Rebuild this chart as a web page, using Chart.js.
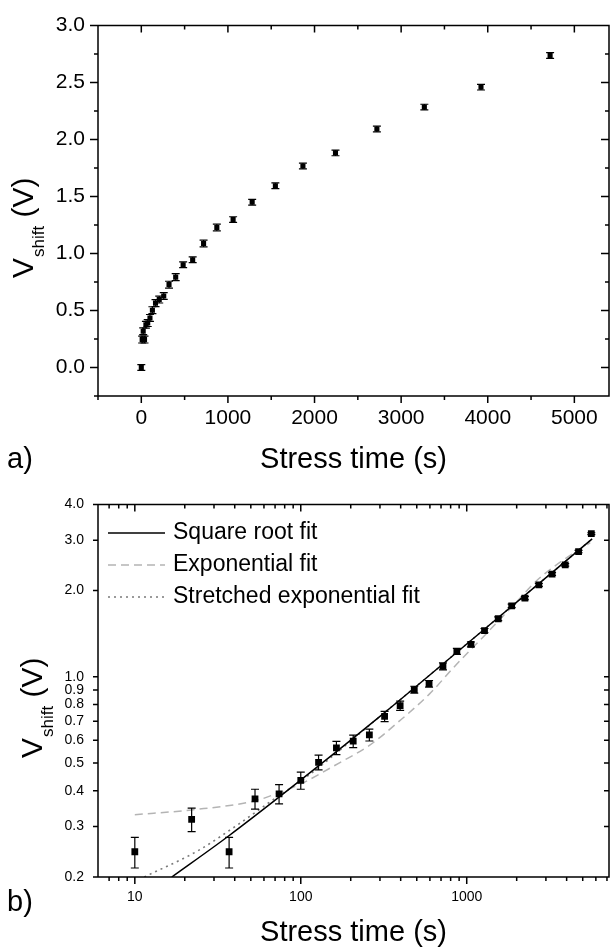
<!DOCTYPE html>
<html>
<head>
<meta charset="utf-8">
<title>Vshift vs stress time</title>
<script src="https://cdn.jsdelivr.net/npm/chart.js@4.4.1/dist/chart.umd.min.js"></script>
<style>
  html, body { margin: 0; padding: 0; background: #fff; }
  #wrap { position: relative; width: 610px; height: 951px; overflow: hidden; }
  #chartA { position: absolute; left: 0; top: 0; }
  #chartB { position: absolute; left: 0; top: 482px; }
</style>
</head>
<body>
<div id="wrap">
  <canvas id="chartA" width="610" height="480"></canvas>
  <canvas id="chartB" width="610" height="469"></canvas>
</div>
<script>
// ==================== DONNEES ====================

const stressTime = [0, 10, 22, 37, 53, 74, 100, 128, 164, 207, 259, 320, 397, 483, 593, 719, 872, 1060, 1280, 1548, 1866, 2242, 2720, 3268, 3922, 4720, 5634];
const vShift     = [0, 0.245, 0.318, 0.245, 0.375, 0.39, 0.435, 0.503, 0.565, 0.596, 0.627, 0.727, 0.793, 0.902, 0.946, 1.088, 1.228, 1.298, 1.45, 1.595, 1.768, 1.883, 2.093, 2.285, 2.46, 2.737, 3.16];
const vErr       = [0.025, 0.03, 0.03, 0.03, 0.03, 0.03, 0.03, 0.03, 0.03, 0.03, 0.03, 0.03, 0.03, 0.025, 0.025, 0.03, 0.03, 0.025, 0.025, 0.025, 0.025, 0.025, 0.025, 0.025, 0.025, 0.025, 0.025];

// courbes d'ajustement (graphe b)
const sqrtFitTime = [16.7, 36.4, 102, 320, 1320, 5700];
const sqrtFitV    = [0.2, 0.277, 0.44, 0.75, 1.49, 3.03];
const expFitTime  = [10, 22, 53, 74, 102, 170, 258, 392, 595, 861, 1320, 2000, 2644, 3900, 5550];
const expFitV     = [0.33, 0.343, 0.369, 0.394, 0.425, 0.50, 0.575, 0.70, 0.87, 1.10, 1.42, 1.83, 2.17, 2.58, 2.94];
const strFitTime  = [11.4, 24, 41.9, 69.8, 100, 320, 1320, 5700];
const strFitV     = [0.2, 0.247, 0.305, 0.376, 0.432, 0.75, 1.49, 3.03];

// graduations
const ticksAX = [0, 1000, 2000, 3000, 4000, 5000];
const minorAX = [-500, 500, 1500, 2500, 3500, 4500];
const ticksAY = [0, 0.5, 1, 1.5, 2, 2.5, 3];
const minorAY = [-0.25, 0.25, 0.75, 1.25, 1.75, 2.25, 2.75];
const ticksBX = [10, 100, 1000];
const minorBX = [7, 8, 9, 20, 30, 40, 50, 60, 70, 80, 90, 200, 300, 400, 500, 600, 700, 800, 900, 2000, 3000, 4000, 5000, 6000, 7000];
const ticksBY = [0.2, 0.3, 0.4, 0.5, 0.6, 0.7, 0.8, 0.9, 1, 2, 3, 4];

const famille = "'Liberation Sans', Arial, sans-serif";
Chart.defaults.font.family = famille;
Chart.defaults.color = '#000';

// ==================== PLUGINS ====================

// cadre + graduations (vers l'extérieur en bas/gauche, vers l'intérieur en haut/droite)
const cadre = {
  id: 'cadre',
  afterDatasetsDraw(chart, args, o) {
    const { ctx, chartArea: a, scales: { x, y } } = chart;
    ctx.save();
    ctx.strokeStyle = '#000';
    ctx.lineWidth = 1.5;
    ctx.beginPath();
    const seg = (x1, y1, x2, y2) => { ctx.moveTo(x1, y1); ctx.lineTo(x2, y2); };
    const tx = (v, len) => {
      const px = x.getPixelForValue(v);
      if (px < a.left - 0.5 || px > a.right + 0.5) return;
      seg(px, a.bottom, px, a.bottom + len);
      seg(px, a.top, px, a.top + len);
    };
    const ty = (v, len) => {
      const py = y.getPixelForValue(v);
      if (py < a.top - 0.5 || py > a.bottom + 0.5) return;
      seg(a.left - len, py, a.left, py);
      seg(a.right, py, a.right - len, py);
    };
    o.xMajor.forEach(v => tx(v, o.xMajorLen));
    o.xMinor.forEach(v => tx(v, o.xMinorLen));
    o.yMajor.forEach(v => ty(v, o.yMajorLen));
    o.yMinor.forEach(v => ty(v, o.yMinorLen));
    ctx.rect(a.left, a.top, a.right - a.left, a.bottom - a.top);
    ctx.stroke();
    ctx.restore();
  }
};

// barres d'erreur sur le premier jeu de données
const barres = {
  id: 'barres',
  afterDatasetsDraw(chart, args, o) {
    const { ctx, chartArea: a, scales: { x, y } } = chart;
    const ds = chart.data.datasets[0];
    ctx.save();
    ctx.beginPath();
    ctx.rect(a.left, a.top, a.right - a.left, a.bottom - a.top);
    ctx.clip();
    ctx.strokeStyle = '#000';
    ctx.lineWidth = 1.2;
    ds.data.forEach((p, i) => {
      const e = ds.err[i];
      const px = x.getPixelForValue(p.x);
      if (px < a.left || px > a.right) return;
      const yHaut = y.getPixelForValue(p.y + e);
      const yBas = y.getPixelForValue(p.y - e);
      ctx.beginPath();
      ctx.moveTo(px, yHaut); ctx.lineTo(px, yBas);
      ctx.moveTo(px - o.cap, yHaut); ctx.lineTo(px + o.cap, yHaut);
      ctx.moveTo(px - o.cap, yBas); ctx.lineTo(px + o.cap, yBas);
      ctx.stroke();
    });
    ctx.restore();
  }
};

// titre de l'axe Y avec indice + étiquette du panneau
const titres = {
  id: 'titres',
  afterDraw(chart, args, o) {
    const { ctx } = chart;
    ctx.save();
    ctx.fillStyle = '#000';
    ctx.textBaseline = 'alphabetic';
    ctx.translate(o.x, o.y);
    ctx.rotate(-Math.PI / 2);
    ctx.font = '30px ' + famille;
    ctx.fillText('V', 0, 0);
    let w = ctx.measureText('V').width;
    ctx.font = '17px ' + famille;
    ctx.fillText('shift', w + 1, o.sub);
    w += 1 + ctx.measureText('shift').width;
    ctx.font = '30px ' + famille;
    ctx.fillText(' (V)', w, 0);
    ctx.restore();

    ctx.save();
    ctx.fillStyle = '#000';
    ctx.font = '29px ' + famille;
    ctx.textBaseline = 'alphabetic';
    ctx.fillText(o.panel, o.px, o.py);
    ctx.restore();
  }
};

// légende des ajustements (graphe b)
const cle = {
  id: 'cle',
  afterDraw(chart, args, o) {
    const { ctx } = chart;
    ctx.save();
    ctx.font = o.size + 'px ' + famille;
    ctx.textBaseline = 'middle';
    chart.data.datasets.filter(d => d.inKey).forEach((d, i) => {
      const yy = o.y + i * o.step;
      ctx.strokeStyle = d.borderColor;
      ctx.lineWidth = d.borderWidth;
      ctx.setLineDash(d.borderDash || []);
      ctx.beginPath();
      ctx.moveTo(o.x, yy);
      ctx.lineTo(o.x + o.len, yy);
      ctx.stroke();
      ctx.setLineDash([]);
      ctx.fillStyle = '#000';
      ctx.fillText(d.label, o.x + o.len + o.gap, yy);
    });
    ctx.restore();
  }
};

const noGrid = { display: false, drawTicks: false };

// ==================== GRAPHE a) ====================

new Chart(document.getElementById('chartA'), {
  type: 'scatter',
  data: {
    datasets: [{
      label: 'Vshift',
      data: stressTime.map((t, i) => ({ x: t, y: vShift[i] })),
      err: vErr,
      pointStyle: 'rect',
      pointRadius: 3.6,
      borderWidth: 0,
      backgroundColor: '#000'
    }]
  },
  options: {
    responsive: false,
    animation: false,
    layout: { autoPadding: false, padding: { top: 15, right: 1, left: 0, bottom: 0 } },
    plugins: {
      legend: { display: false },
      tooltip: { enabled: false },
      cadre: { xMajor: ticksAX, xMinor: minorAX, yMajor: ticksAY, yMinor: minorAY, xMajorLen: 7, xMinorLen: 4, yMajorLen: 8, yMinorLen: 4 },
      barres: { cap: 4 },
      titres: { x: 33, y: 278, sub: 11, panel: 'a)', px: 7, py: 468 }
    },
    scales: {
      x: {
        type: 'linear', min: -500, max: 5400,
        grid: noGrid, border: { display: false },
        afterBuildTicks: s => { s.ticks = ticksAX.map(v => ({ value: v })); },
        afterFit: s => { s.height = 84; },
        ticks: { font: { size: 21 }, padding: 10, maxRotation: 0, autoSkip: false, callback: v => String(v) },
        title: { display: true, text: 'Stress time (s)', font: { size: 29 }, padding: { top: 0, bottom: 3 } }
      },
      y: {
        type: 'linear', min: -0.25, max: 3.0,
        grid: noGrid, border: { display: false },
        afterBuildTicks: s => { s.ticks = ticksAY.map(v => ({ value: v })); },
        afterFit: s => { s.width = 98; },
        ticks: { font: { size: 21 }, padding: 13, autoSkip: false, callback: v => v.toFixed(1) }
      }
    }
  },
  plugins: [barres, cadre, titres]
});

// ==================== GRAPHE b) ====================

const pointsB = stressTime
  .map((t, i) => ({ x: t, y: vShift[i] }))
  .filter(p => p.x > 0 && p.y > 0);
const errB = vErr.filter((e, i) => stressTime[i] > 0 && vShift[i] > 0);

const courbe = (tt, vv) => tt.map((t, i) => ({ x: t, y: vv[i] }));

new Chart(document.getElementById('chartB'), {
  type: 'scatter',
  data: {
    datasets: [
      {
        label: 'Vshift',
        data: pointsB,
        err: errB,
        pointStyle: 'rect',
        pointRadius: 4.8,
        borderWidth: 0,
        backgroundColor: '#000'
      },
      {
        label: 'Square root fit',
        inKey: true,
        data: courbe(sqrtFitTime, sqrtFitV),
        showLine: true, pointRadius: 0,
        borderColor: '#000', borderWidth: 1.5,
        cubicInterpolationMode: 'monotone'
      },
      {
        label: 'Exponential fit',
        inKey: true,
        data: courbe(expFitTime, expFitV),
        showLine: true, pointRadius: 0,
        borderColor: '#b4b4b4', borderWidth: 1.5, borderDash: [8, 5],
        cubicInterpolationMode: 'monotone'
      },
      {
        label: 'Stretched exponential fit',
        inKey: true,
        data: courbe(strFitTime, strFitV),
        showLine: true, pointRadius: 0,
        borderColor: '#7a7a7a', borderWidth: 1.6, borderDash: [2, 4],
        cubicInterpolationMode: 'monotone'
      }
    ]
  },
  options: {
    responsive: false,
    animation: false,
    layout: { autoPadding: false, padding: { top: 15, right: 1, left: 0, bottom: 0 } },
    plugins: {
      legend: { display: false },
      tooltip: { enabled: false },
      cadre: { xMajor: ticksBX, xMinor: minorBX, yMajor: ticksBY, yMinor: [], xMajorLen: 7, xMinorLen: 4, yMajorLen: 5, yMinorLen: 0 },
      barres: { cap: 4 },
      titres: { x: 42, y: 276, sub: 11, panel: 'b)', px: 7, py: 429 },
      cle: { x: 108, y: 51, step: 32, len: 57, gap: 8, size: 23 }
    },
    scales: {
      x: {
        type: 'logarithmic', min: 6, max: 7200,
        grid: noGrid, border: { display: false },
        afterBuildTicks: s => { s.ticks = ticksBX.map(v => ({ value: v })); },
        afterFit: s => { s.height = 74; },
        ticks: { font: { size: 14 }, padding: 12, maxRotation: 0, autoSkip: false, callback: v => String(v) },
        title: { display: true, text: 'Stress time (s)', font: { size: 29 }, padding: { top: 0, bottom: 1 } }
      },
      y: {
        type: 'logarithmic', min: 0.2, max: 4,
        grid: noGrid, border: { display: false },
        afterBuildTicks: s => { s.ticks = ticksBY.map(v => ({ value: v })); },
        afterFit: s => { s.width = 98; },
        ticks: { font: { size: 14 }, padding: 14, autoSkip: false, callback: v => v.toFixed(1) }
      }
    }
  },
  plugins: [barres, cadre, titres, cle]
});
</script>
</body>
</html>
